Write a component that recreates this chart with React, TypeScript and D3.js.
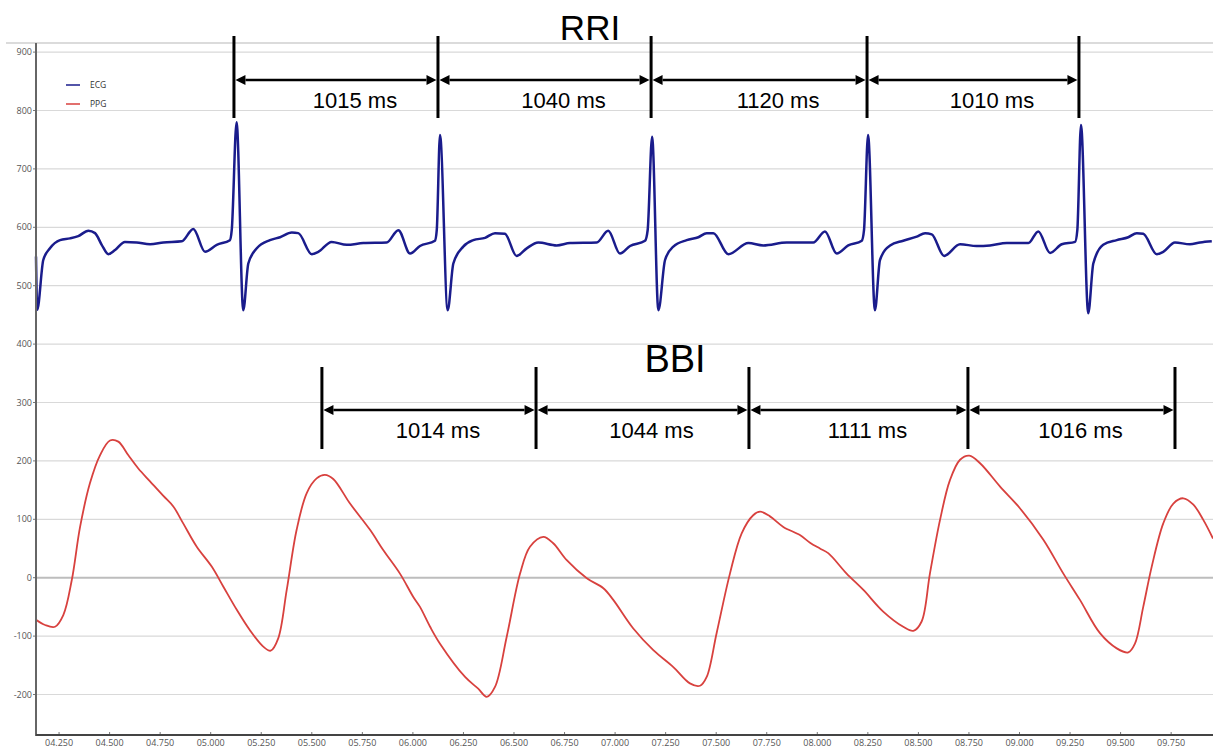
import React from "react";
import * as d3 from "d3";

const WIDTH = 1213;
const HEIGHT = 749;

// ECG samples: [time s, amplitude]
const ecg: [number, number][] = [
  [4.136, 550], [4.142, 459], [4.172, 544], [4.205, 564], [4.255, 578], [4.304, 581],
  [4.345, 585], [4.395, 594], [4.428, 590], [4.461, 570], [4.494, 554], [4.527, 561],
  [4.576, 575], [4.634, 574], [4.7, 571], [4.766, 574], [4.857, 576], [4.914, 597],
  [4.972, 558], [5.03, 570], [5.095, 578], [5.104, 595], [5.128, 780], [5.161, 458],
  [5.186, 538], [5.228, 564], [5.293, 578], [5.343, 583], [5.401, 591], [5.433, 590],
  [5.5, 554], [5.532, 558], [5.598, 575], [5.673, 570], [5.755, 573], [5.87, 574],
  [5.928, 595], [5.986, 555], [6.035, 568], [6.109, 577], [6.118, 595], [6.134, 758],
  [6.172, 458], [6.2, 538], [6.249, 567], [6.299, 578], [6.357, 582], [6.406, 590],
  [6.455, 589], [6.513, 551], [6.563, 564], [6.62, 574], [6.711, 569], [6.777, 573],
  [6.909, 574], [6.966, 594], [7.024, 555], [7.074, 568], [7.148, 577], [7.161, 595],
  [7.183, 755], [7.214, 458], [7.247, 544], [7.288, 567], [7.354, 578], [7.412, 583],
  [7.453, 590], [7.486, 590], [7.56, 554], [7.659, 573], [7.733, 569], [7.849, 574],
  [7.98, 574], [8.038, 593], [8.096, 555], [8.153, 569], [8.22, 577], [8.231, 595],
  [8.251, 758], [8.285, 458], [8.31, 544], [8.36, 569], [8.425, 577], [8.492, 584],
  [8.533, 590], [8.566, 588], [8.627, 551], [8.706, 571], [8.788, 568], [8.854, 569],
  [8.937, 573], [9.044, 573], [9.093, 593], [9.151, 556], [9.209, 571], [9.275, 575],
  [9.286, 595], [9.304, 775], [9.34, 453], [9.365, 538], [9.414, 570], [9.481, 578],
  [9.538, 583], [9.58, 590], [9.612, 589], [9.679, 554], [9.711, 558], [9.769, 574],
  [9.843, 571], [9.893, 574], [9.951, 576],
];

// PPG samples: [time s, amplitude]
const ppg: [number, number][] = [
  [4.136, -72], [4.181, -81], [4.23, -84], [4.271, -64], [4.313, -4], [4.354, 87],
  [4.403, 162], [4.453, 210], [4.502, 235], [4.543, 233], [4.592, 210], [4.642, 187],
  [4.7, 165], [4.766, 140], [4.815, 122], [4.864, 93], [4.931, 53], [5.005, 19],
  [5.062, -15], [5.129, -55], [5.194, -90], [5.26, -118], [5.297, -125], [5.334, -104],
  [5.376, -21], [5.425, 82], [5.475, 145], [5.524, 170], [5.565, 176], [5.606, 169],
  [5.689, 127], [5.788, 82], [5.854, 47], [5.936, 7], [6.002, -33], [6.035, -50],
  [6.085, -84], [6.134, -113], [6.258, -170], [6.323, -190], [6.365, -204], [6.406, -187],
  [6.464, -101], [6.53, 7], [6.579, 53], [6.645, 70], [6.694, 59], [6.761, 30],
  [6.86, -1], [6.942, -18], [6.991, -38], [7.09, -87], [7.189, -124], [7.288, -153],
  [7.37, -181], [7.42, -185], [7.453, -170], [7.502, -95], [7.568, 7], [7.626, 76],
  [7.683, 107], [7.717, 113], [7.766, 105], [7.832, 87], [7.914, 73], [7.964, 60],
  [8.013, 50], [8.054, 42], [8.145, 7], [8.228, -21], [8.326, -58], [8.425, -84],
  [8.475, -91], [8.516, -75], [8.557, 7], [8.607, 99], [8.656, 167], [8.706, 202],
  [8.752, 209], [8.805, 196], [8.904, 156], [9.002, 119], [9.118, 65], [9.217, 7],
  [9.299, -38], [9.398, -95], [9.481, -121], [9.538, -128], [9.571, -113], [9.612, -50],
  [9.654, 19], [9.711, 93], [9.761, 127], [9.81, 136], [9.86, 125], [9.909, 99],
  [9.957, 67],
];

// interval markers (R peaks / pulse peaks) and their labels
const rriMarks = [5.115, 6.124, 7.178, 8.246, 9.294];
const rriLabels = ["1015 ms", "1040 ms", "1120 ms", "1010 ms"];
const bbiMarks = [5.55, 6.609, 7.662, 8.745, 9.769];
const bbiLabels = ["1014 ms", "1044 ms", "1111 ms", "1016 ms"];

const yTicks = [-200, -100, 0, 100, 200, 300, 400, 500, 600, 700, 800, 900];
const xTicks = [4.25, 4.5, 4.75, 5, 5.25, 5.5, 5.75, 6, 6.25, 6.5, 6.75, 7, 7.25, 7.5, 7.75, 8, 8.25, 8.5, 8.75, 9, 9.25, 9.5, 9.75];

const legendItems = [
  { name: "ECG", color: "#1a1c8c" },
  { name: "PPG", color: "#d8413e" },
];

const PLOT_LEFT = 36;
const PLOT_TOP = 43;
const PLOT_BOTTOM = 735;

const fmtTime = (t: number) => {
  const s = t.toFixed(3);
  return s.length < 6 ? "0" + s : s;
};

function IntervalSet({ marks, labels, x, yTop, yBottom, yArrow, yLabel, labelShift }: any) {
  return (
    <g>
      {marks.map((m: number, i: number) => (
        <line key={"b" + i} x1={x(m)} x2={x(m)} y1={yTop} y2={yBottom} stroke="#000" strokeWidth={3} />
      ))}
      {labels.map((lab: string, i: number) => {
        const x0 = x(marks[i]) + 1.5;
        const x1 = x(marks[i + 1]) - 1.5;
        const ah = 10;
        return (
          <g key={"a" + i}>
            <line x1={x0 + ah} x2={x1 - ah} y1={yArrow} y2={yArrow} stroke="#000" strokeWidth={2.5} />
            <path d={`M${x0},${yArrow} L${x0 + ah},${yArrow - 5} L${x0 + ah},${yArrow + 5} Z`} fill="#000" />
            <path d={`M${x1},${yArrow} L${x1 - ah},${yArrow - 5} L${x1 - ah},${yArrow + 5} Z`} fill="#000" />
            <text
              x={(x0 + x1) / 2 + labelShift}
              y={yLabel}
              textAnchor="middle"
              fontSize={22}
              fontFamily="Liberation Sans, Arial, sans-serif"
              fill="#000"
            >
              {lab}
            </text>
          </g>
        );
      })}
    </g>
  );
}

export default function App() {
  const x = d3.scaleLinear().domain([4.136, 9.957]).range([PLOT_LEFT, WIDTH]);
  const y = d3.scaleLinear().domain([0, 900]).range([577.7, 52.1]);

  const ecgLine = d3
    .line<[number, number]>()
    .x((d) => x(d[0]))
    .y((d) => y(d[1]))
    .curve(d3.curveMonotoneX);

  const ppgLine = d3
    .line<[number, number]>()
    .x((d) => x(d[0]))
    .y((d) => y(d[1]))
    .curve(d3.curveCatmullRom.alpha(0.5));

  const axisFont = "Open Sans, DejaVu Sans, sans-serif";

  return (
    <svg width={WIDTH} height={HEIGHT} style={{ position: "absolute", left: 0, top: 0, background: "#fff" }}>
      {/* top border */}
      <line x1={6} x2={WIDTH} y1={PLOT_TOP} y2={PLOT_TOP} stroke="#cfcfcf" strokeWidth={1.5} />
      {/* grid */}
      {yTicks.map((v) => (
        <g key={v}>
          <line
            x1={PLOT_LEFT}
            x2={WIDTH}
            y1={y(v)}
            y2={y(v)}
            stroke={v === 0 ? "#bdbdbd" : "#d9d9d9"}
            strokeWidth={v === 0 ? 2 : 1.2}
          />
          <line x1={PLOT_LEFT - 3} x2={PLOT_LEFT} y1={y(v)} y2={y(v)} stroke="#777" />
          <text x={32} y={y(v)} dy="0.35em" textAnchor="end" fontSize={9} fontFamily={axisFont} fill="#555">
            {v}
          </text>
        </g>
      ))}

      {/* x ticks */}
      {xTicks.map((t) => (
        <g key={t}>
          <line x1={x(t)} x2={x(t)} y1={PLOT_BOTTOM - 3} y2={PLOT_BOTTOM} stroke="#777" />
          <text x={x(t)} y={743} dy="0.35em" textAnchor="middle" fontSize={9} fontFamily={axisFont} fill="#555">
            {fmtTime(t)}
          </text>
        </g>
      ))}

      {/* series */}
      <path d={ppgLine(ppg) || ""} fill="none" stroke={legendItems[1].color} strokeWidth={1.8} />
      <path d={ecgLine(ecg) || ""} fill="none" stroke={legendItems[0].color} strokeWidth={2.5} strokeLinejoin="round" />

      {/* axes */}
      <line x1={PLOT_LEFT} x2={PLOT_LEFT} y1={PLOT_TOP} y2={PLOT_BOTTOM + 1} stroke="#666" strokeWidth={2} />
      <line x1={PLOT_LEFT} x2={WIDTH} y1={PLOT_BOTTOM} y2={PLOT_BOTTOM} stroke="#444" strokeWidth={2} />

      {/* legend */}
      {legendItems.map((it, i) => (
        <g key={it.name} transform={`translate(66, ${85 + i * 19})`}>
          <line x1={0} x2={14} y1={0} y2={0} stroke={it.color} strokeWidth={1.5} />
          <text x={24} y={0} dy="0.35em" fontSize={8.5} fontFamily={axisFont} fill="#333">
            {it.name}
          </text>
        </g>
      ))}

      {/* annotations */}
      <text x={590} y={40} textAnchor="middle" fontSize={35} fontFamily="Liberation Sans, Arial, sans-serif" fill="#000">
        RRI
      </text>
      <IntervalSet marks={rriMarks} labels={rriLabels} x={x} yTop={36} yBottom={118} yArrow={80} yLabel={108} labelShift={19} />

      <text x={675} y={372} textAnchor="middle" fontSize={38} fontFamily="Liberation Sans, Arial, sans-serif" fill="#000">
        BBI
      </text>
      <IntervalSet marks={bbiMarks} labels={bbiLabels} x={x} yTop={367} yBottom={449} yArrow={410} yLabel={438} labelShift={9} />
    </svg>
  );
}
